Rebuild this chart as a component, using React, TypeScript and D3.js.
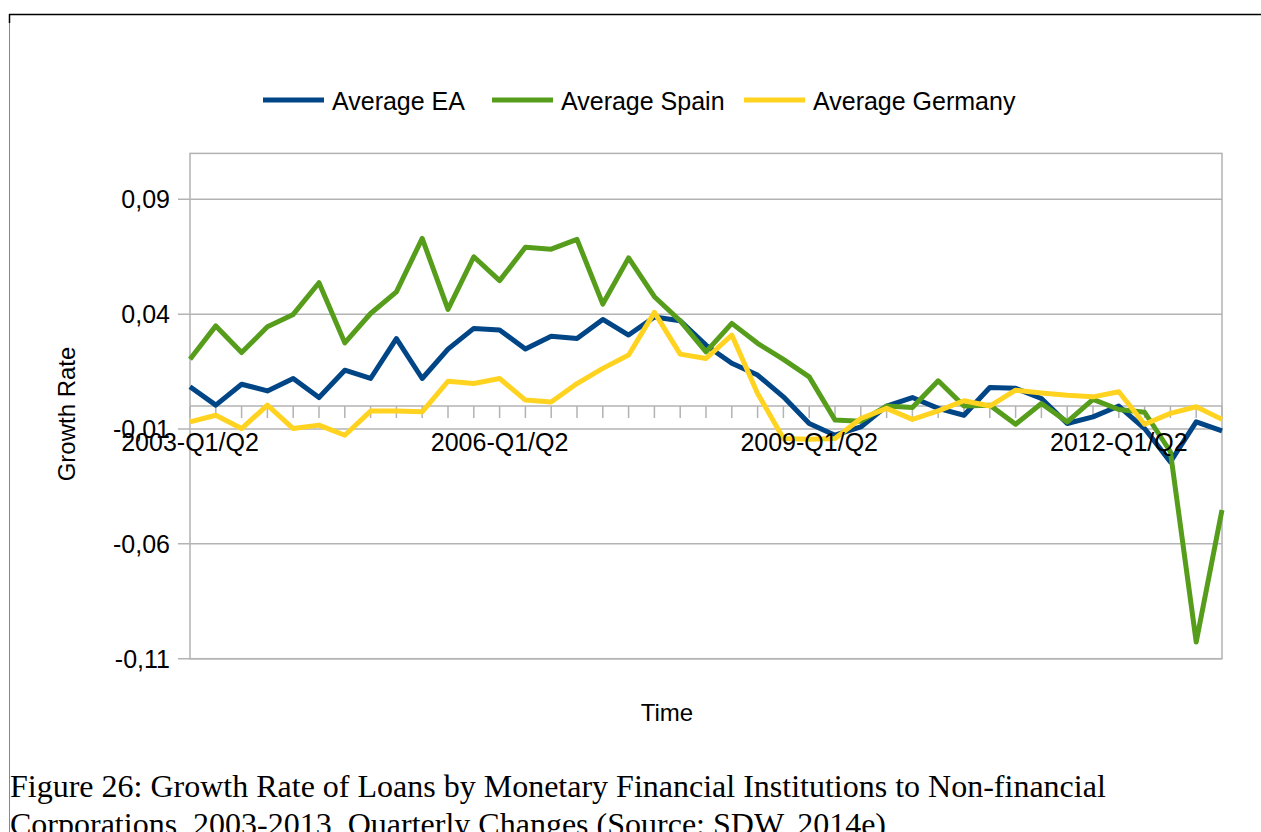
import React, { useEffect, useRef } from "react";
import * as d3 from "d3";

// Category labels: quarterly change periods 2003-Q1/Q2 ... 2013-Q1/Q2
const years = [2003, 2004, 2005, 2006, 2007, 2008, 2009, 2010, 2011, 2012, 2013];
const periodSuffixes = ["Q1/Q2", "Q2/Q3", "Q3/Q4", "Q4/Q1"];
const categories: string[] = [];
years.forEach((yr) => {
  periodSuffixes.forEach((s) => {
    if (yr === 2013 && s !== "Q1/Q2") return;
    categories.push(`${yr}-${s}`);
  });
});
const labeledCategories = ["2003-Q1/Q2", "2006-Q1/Q2", "2009-Q1/Q2", "2012-Q1/Q2"];

const averageEA = [
  0.0084, 0.0004, 0.0095, 0.0066, 0.012, 0.0037, 0.0156, 0.012, 0.0294, 0.012,
  0.0248, 0.0338, 0.0331, 0.0248, 0.0304, 0.0294, 0.0377, 0.0309, 0.0388, 0.0371,
  0.0265, 0.0186, 0.0135, 0.004, -0.0076, -0.0127, -0.0091, 0.0, 0.0037, -0.001,
  -0.004, 0.0081, 0.0077, 0.0033, -0.0076, -0.0047, 0.0, -0.0098, -0.0243, -0.0069,
  -0.0108,
];
const averageSpain = [
  0.0204, 0.0349, 0.0233, 0.0345, 0.0399, 0.0537, 0.0275, 0.0403, 0.0497, 0.073,
  0.0421, 0.065, 0.0546, 0.0691, 0.0683, 0.0726, 0.0444, 0.0645, 0.0476, 0.0371,
  0.0236, 0.036, 0.0273, 0.0203, 0.0127, -0.0061, -0.0066, 0.0, -0.0006, 0.011,
  0.0, 0.0004, -0.0079, 0.0011, -0.0069, 0.0029, -0.0015, -0.0027, -0.0199, -0.1027,
  -0.0453,
];
const averageGermany = [
  -0.0069, -0.004, -0.0098, 0.0004, -0.0098, -0.0083, -0.0127, -0.0022, -0.0022, -0.0025,
  0.0108, 0.0098, 0.012, 0.0026, 0.0018, 0.0098, 0.0164, 0.0222, 0.0408, 0.0226,
  0.0207, 0.0309, 0.0055, -0.0141, -0.0145, -0.0141, -0.0054, -0.001, -0.0058, -0.0021,
  0.0023, 0.0, 0.0069, 0.0057, 0.0047, 0.004, 0.0062, -0.0079, -0.0032, -0.0003,
  -0.0058,
];
const yTicks = [-0.11, -0.06, -0.01, 0.04, 0.09];

const seriesNames = ["Average EA", "Average Spain", "Average Germany"];
const seriesColors = ["#004586", "#579d1c", "#ffd320"];
const seriesValues = [averageEA, averageSpain, averageGermany];

const W = 1261;
const H = 832;

export default function App() {
  const ref = useRef<SVGSVGElement | null>(null);

  useEffect(() => {
    const svg = d3.select(ref.current);
    svg.selectAll("*").remove();

    const left = 190, right = 1222, top = 153.4, bottom = 658.7;
    const x = d3.scalePoint<string>().domain(categories).range([left, right]);
    const y = d3.scaleLinear().domain([-0.11, 0.11]).range([bottom, top]);
    const grid = "#b3b3b3";
    const sans = "'Liberation Sans', Arial, sans-serif";

    // outer frame
    svg.append("line").attr("x1", 9).attr("x2", W).attr("y1", 14.5).attr("y2", 14.5)
      .attr("stroke", "#000").attr("stroke-width", 1.5);
    svg.append("line").attr("x1", 9.5).attr("x2", 9.5).attr("y1", 14).attr("y2", 23)
      .attr("stroke", "#000").attr("stroke-width", 1.5);
    svg.append("line").attr("x1", 9.5).attr("x2", 9.5).attr("y1", 23).attr("y2", H)
      .attr("stroke", "#888").attr("stroke-width", 1);

    // plot border
    svg.append("rect").attr("x", left).attr("y", top).attr("width", right - left)
      .attr("height", bottom - top).attr("fill", "none").attr("stroke", grid).attr("stroke-width", 1.5);

    // grid lines + y ticks
    const fmt = (v: number) => d3.format(".2f")(v).replace(".", ",").replace("−", "-");
    yTicks.forEach((t) => {
      svg.append("line").attr("x1", left - 12).attr("x2", right).attr("y1", y(t)).attr("y2", y(t))
        .attr("stroke", grid).attr("stroke-width", 1.5);
      svg.append("text").attr("x", 170).attr("y", y(t)).attr("dy", "0.36em")
        .attr("text-anchor", "end").attr("font-family", sans).attr("font-size", 25)
        .attr("fill", "#000").text(fmt(t));
    });

    // x axis at zero
    svg.append("line").attr("x1", left).attr("x2", right).attr("y1", y(0)).attr("y2", y(0))
      .attr("stroke", grid).attr("stroke-width", 1.5);
    categories.forEach((c) => {
      svg.append("line").attr("x1", x(c)!).attr("x2", x(c)!).attr("y1", y(0)).attr("y2", y(0) + 12)
        .attr("stroke", grid).attr("stroke-width", 1.5);
    });

    // lines
    const lineGen = d3.line<number>().x((_, i) => x(categories[i])!).y((d) => y(d));
    seriesValues.forEach((vals, k) => {
      svg.append("path").attr("d", lineGen(vals)!).attr("fill", "none")
        .attr("stroke", seriesColors[k]).attr("stroke-width", 5).attr("stroke-linejoin", "round");
    });

    // x labels
    labeledCategories.forEach((c) => {
      svg.append("text").attr("x", x(c)!).attr("y", 451).attr("text-anchor", "middle")
        .attr("font-family", sans).attr("font-size", 25).attr("fill", "#000").text(c);
    });

    // axis titles
    svg.append("text").attr("transform", "translate(75,414) rotate(-90)").attr("text-anchor", "middle")
      .attr("font-family", sans).attr("font-size", 24).attr("fill", "#000").text("Growth Rate");
    svg.append("text").attr("x", 667).attr("y", 721).attr("text-anchor", "middle")
      .attr("font-family", sans).attr("font-size", 24).attr("fill", "#000").text("Time");

    // legend
    const legendX = [263, 492, 744];
    seriesNames.forEach((n, k) => {
      svg.append("line").attr("x1", legendX[k]).attr("x2", legendX[k] + 61).attr("y1", 100).attr("y2", 100)
        .attr("stroke", seriesColors[k]).attr("stroke-width", 5);
      svg.append("text").attr("x", legendX[k] + 69).attr("y", 101).attr("dy", "0.36em")
        .attr("font-family", sans).attr("font-size", 25).attr("fill", "#000").text(n);
    });

    // caption
    const serif = "'Liberation Serif', 'Times New Roman', serif";
    svg.append("text").attr("x", 10).attr("y", 797).attr("font-family", serif).attr("font-size", 32)
      .attr("fill", "#000").text("Figure 26: Growth Rate of Loans by Monetary Financial Institutions to Non-financial");
    svg.append("text").attr("x", 10).attr("y", 835).attr("font-family", serif).attr("font-size", 32)
      .attr("fill", "#000").text("Corporations, 2003-2013, Quarterly Changes (Source: SDW, 2014e)");
  }, []);

  return (
    <svg ref={ref} width={W} height={H} style={{ position: "absolute", left: 0, top: 0, background: "#fff" }} />
  );
}
